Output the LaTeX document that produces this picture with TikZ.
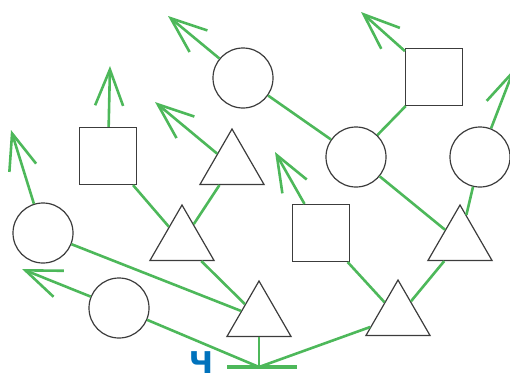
\documentclass[tikz,border=0pt]{standalone}
\usepackage{fontspec}
\setmainfont{DejaVu Sans}
\usetikzlibrary{positioning, arrows.meta, shapes.geometric}
\definecolor{stemgreen}{RGB}{77,184,90}
\definecolor{labelblue}{RGB}{0,114,188}
\definecolor{outline}{RGB}{60,60,60}

\begin{document}
\begin{tikzpicture}[
    % GLOBAL CFG
    x=1pt, y=-1pt,
    % Styles
    circ/.style={% For round members
        circle,
        draw=outline,
        line width=1.2pt,
        minimum size=60pt,
        inner sep=0pt,
    },
    sqr/.style={% For square members
        rectangle,
        draw=outline,
        line width=1.2pt,
        minimum size=57pt,
        inner sep=0pt,
    },
    tri/.style={% For triangle members
        regular polygon,
        regular polygon sides=3,
        draw=outline,
        line width=1.2pt,
        minimum size=74pt,
        inner sep=0pt,
    },
    branch/.style={% Plain green links
        draw=stemgreen,
        line width=2.6pt,
    },
    shoot/.style={% Links ending in an open arrow
        branch,
        -{Straight Barb[length=36pt, width=28pt]},
    },
    ]
    \useasboundingbox (0,0) rectangle (510,380);

    % Coordinates
    \coordinate (root) at (259,367);
    \coordinate (barL) at (227,367);
    \coordinate (barR) at (297,367);
    \coordinate (tipA) at (168,16);
    \coordinate (tipTR) at (361,12);
    \coordinate (tipL) at (110,66);
    \coordinate (tipT) at (155,102);
    \coordinate (tipD) at (11,130);
    \coordinate (tipM) at (275,152);
    \coordinate (tipC) at (514,69);
    \coordinate (tipF) at (22,269);

    % Draw members named circ#, sq#, tri#
    \node [circ] (circA) at (243,78) {};
    \node [sqr] (sqTR) at (434,77) {};
    \node [circ] (circB) at (356,157) {};
    \node [circ] (circC) at (480,157) {};
    \node [sqr] (sqL) at (108,156) {};
    \node [tri] (triT) at (232,166) {};
    \node [circ] (circD) at (43,233) {};
    \node [tri] (triE) at (182,242) {};
    \node [sqr] (sqM) at (321,233) {};
    \node [tri] (triH) at (460,242) {};
    \node [circ] (circF) at (119,308) {};
    \node [tri] (triG) at (259,318) {};
    \node [tri] (triI) at (398,317) {};

    % Label at the base
    \node [text=labelblue, inner sep=0pt, font=\bfseries\fontsize{30}{30}\selectfont] (ch) at (201,363) {Ч};

    % Connect all
    % Base
    \draw [branch, line width=4pt] (barL) -- (barR);
    \draw [branch] (root) -- (triG);
    \draw [branch] (root) -- (triI);
    \draw [branch] (root) -- (circF);

    % Left side
    \draw [branch] (triG) -- (circD);
    \draw [branch] (triG) -- (triE);
    \draw [branch] (triE) -- (sqL);
    \draw [branch] (triE) -- (triT);

    % Right side
    \draw [branch] (triI) -- (sqM);
    \draw [branch] (triI) -- (triH);
    \draw [branch] (triH) -- (circB);
    \draw [branch] (triH) -- (circC);
    \draw [branch] (circB) -- (circA);
    \draw [branch] (circB) -- (sqTR);

    % Free ends
    \draw [shoot] (circF) -- (tipF);
    \draw [shoot] (circD) -- (tipD);
    \draw [shoot] (sqL) -- (tipL);
    \draw [shoot] (triT) -- (tipT);
    \draw [shoot] (circA) -- (tipA);
    \draw [shoot] (sqTR) -- (tipTR);
    \draw [shoot] (sqM) -- (tipM);
    \draw [shoot] (circC) -- (tipC);

\end{tikzpicture}
\end{document}
